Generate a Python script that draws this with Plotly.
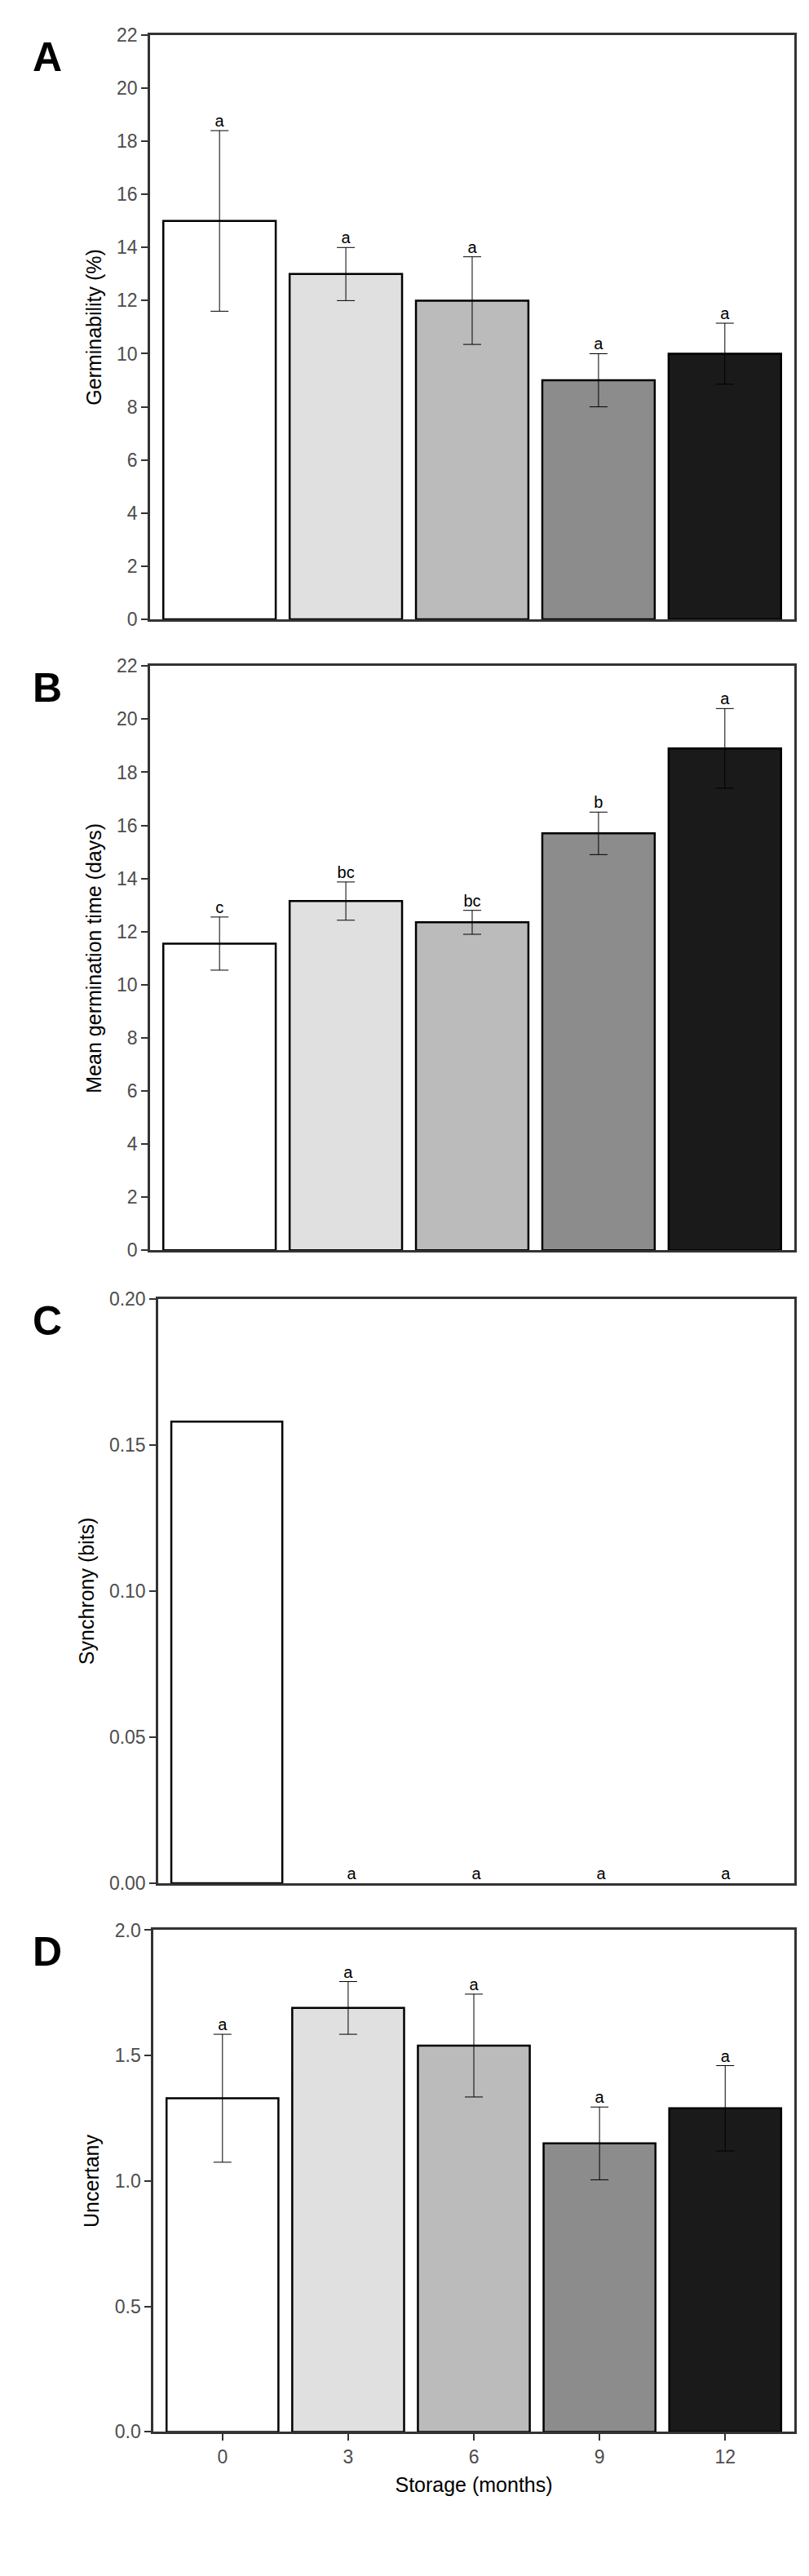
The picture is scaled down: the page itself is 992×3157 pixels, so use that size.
import plotly.graph_objects as go

cats = ["0", "3", "6", "9", "12"]
colors = ["#ffffff", "#e0e0e0", "#bbbbbb", "#8c8c8c", "#1a1a1a"]

germ = [15.0, 13.0, 12.0, 9.0, 10.0]
germ_err = [3.4, 1.0, 1.65, 1.0, 1.15]
germ_lab = ["a", "a", "a", "a", "a"]

mgt = [11.55, 13.15, 12.35, 15.7, 18.9]
mgt_err = [1.0, 0.72, 0.45, 0.8, 1.5]
mgt_lab = ["c", "bc", "bc", "b", "a"]

syn = [0.158, 0.0, 0.0, 0.0, 0.0]
syn_err = [0, 0, 0, 0, 0]
syn_lab = ["", "a", "a", "a", "a"]

unc = [1.33, 1.69, 1.54, 1.15, 1.29]
unc_err = [0.255, 0.105, 0.205, 0.145, 0.17]
unc_lab = ["a", "a", "a", "a", "a"]

panels = [
    ("A", germ, germ_err, germ_lab, "Germinability (%)", [0, 22], 2, None, [0.7643, 0.9930], 0.1774),
    ("B", mgt, mgt_err, mgt_lab, "Mean germination time (days)", [0, 22], 2, None, [0.5173, 0.7460], 0.1774),
    ("C", syn, syn_err, syn_lab, "Synchrony (bits)", [0, 0.2], 0.05, ".2f", [0.2696, 0.4983], 0.1875),
    ("D", unc, unc_err, unc_lab, "Uncertany", [0, 2], 0.5, ".1f", [0.0548, 0.2512], 0.1815),
]

fig = go.Figure()
xs = list(range(5))
for i, (letter, vals, errs, labs, title, rng, dt, fmt, ydom, x0) in enumerate(panels):
    n = "" if i == 0 else str(i + 1)
    xa, ya = "x" + n, "y" + n
    show_err = any(e > 0 for e in errs)
    fig.add_trace(go.Bar(
        x=xs, y=vals, xaxis=xa, yaxis=ya, width=0.89,
        marker=dict(color=colors, line=dict(color="black", width=[2.5 if v > 0 else 0 for v in vals])),
        error_y=dict(type="data", array=errs, visible=show_err, color="black", thickness=1, width=11),
        showlegend=False))
    tops = [v + e for v, e in zip(vals, errs)]
    fig.add_trace(go.Scatter(
        x=xs, y=tops, xaxis=xa, yaxis=ya, mode="text", text=labs,
        textposition="top center", textfont=dict(size=20, color="black", family="Arial"),
        showlegend=False, cliponaxis=False))
    last = i == 3
    fig.layout["xaxis" + n] = dict(
        domain=[x0, 0.9738], anchor=ya, range=[-0.55, 4.55],
        tickmode="array", tickvals=xs, ticktext=cats if last else [""] * 5,
        ticks="outside" if last else "", ticklen=8, tickwidth=2, tickcolor="#333333",
        showline=True, linecolor="#333333", linewidth=2.5, mirror=True, showgrid=False,
        zeroline=False, tickfont=dict(size=23, color="#4d4d4d", family="Arial"),
        title=dict(text="Storage (months)", font=dict(size=25, color="black", family="Arial"), standoff=14) if last else None)
    fig.layout["yaxis" + n] = dict(
        domain=ydom, anchor=xa, range=rng, dtick=dt, tick0=0, tickformat=fmt,
        ticks="outside", ticklen=8, tickwidth=2, tickcolor="#333333",
        showline=True, linecolor="#333333", linewidth=2.5, mirror=True, showgrid=False,
        zeroline=False, tickfont=dict(size=23, color="#4d4d4d", family="Arial"),
        title=dict(text=title, font=dict(size=25, color="black", family="Arial"), standoff=12))
    fig.add_annotation(text="<b>%s</b>" % letter, xref="paper", yref="paper",
                       x=0.03, y=ydom[1] + 0.001, xanchor="left", yanchor="top",
                       showarrow=False, font=dict(size=50, color="black", family="Arial"))

fig.update_layout(width=992, height=3157, margin=dict(l=0, r=0, t=0, b=0),
                  paper_bgcolor="white", plot_bgcolor="white", bargap=0.11)
fig.write_html("out.html")
